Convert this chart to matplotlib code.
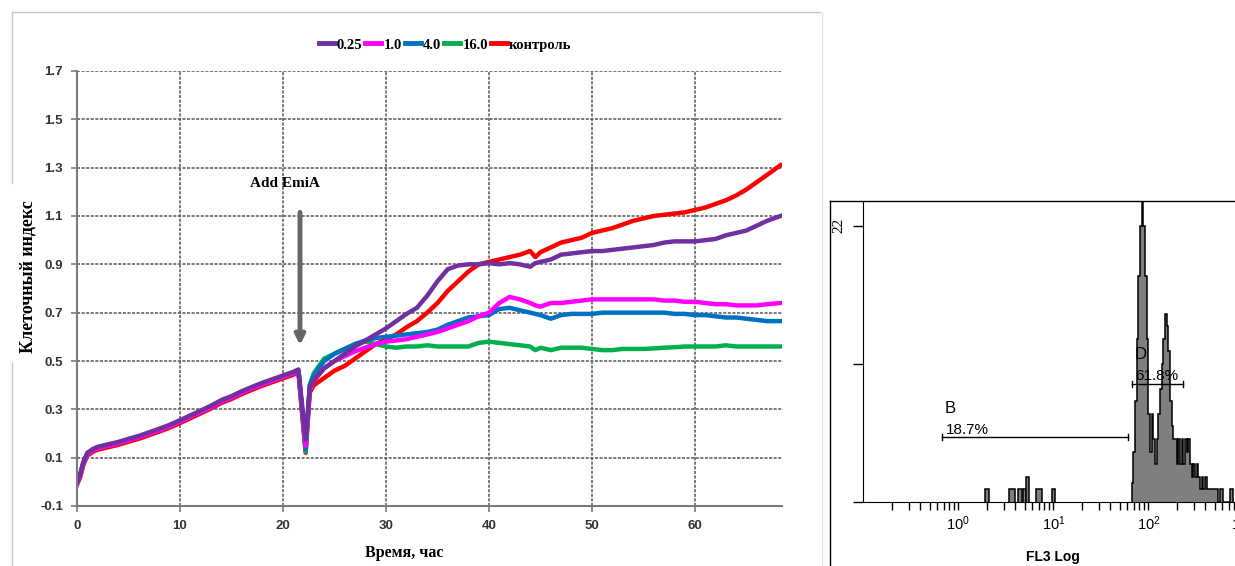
import numpy as np
import matplotlib
matplotlib.use('Agg')
import matplotlib.pyplot as plt
from matplotlib.lines import Line2D

plt.rcParams['font.family'] = ['Liberation Sans', 'DejaVu Sans']

# ---- left chart: cell index vs time ----
t_pre = [0, 0.3, 0.6, 1.0, 1.5, 2, 3, 4, 5, 6, 7, 8, 9, 10, 11, 12, 13, 14, 15,
         16, 17, 18, 19, 20, 21, 21.5]
ci_pre = [0.0, 0.03, 0.08, 0.12, 0.135, 0.145, 0.155, 0.165, 0.178, 0.19, 0.205,
          0.22, 0.236, 0.255, 0.275, 0.295, 0.315, 0.338, 0.355, 0.375, 0.393,
          0.41, 0.425, 0.44, 0.455, 0.465]

t_post = [22.2, 22.6, 23, 24, 25, 26, 27, 28, 29, 30, 31, 32, 33, 34, 35, 36, 37,
          38, 39, 40, 41, 42, 43, 44, 44.5, 45, 46, 47, 48, 49, 50, 51, 52, 53,
          54, 55, 56, 57, 58, 59, 60, 61, 62, 63, 64, 65, 66, 67, 68.3]

ci_025 = [0.175, 0.39, 0.42, 0.47, 0.5, 0.53, 0.56, 0.585, 0.61, 0.635, 0.665,
          0.695, 0.72, 0.77, 0.83, 0.88, 0.895, 0.9, 0.9, 0.905, 0.9, 0.905, 0.9,
          0.89, 0.905, 0.91, 0.92, 0.94, 0.945, 0.95, 0.955, 0.955, 0.96, 0.965,
          0.97, 0.975, 0.98, 0.99, 0.995, 0.995, 0.995, 1.0, 1.005, 1.02, 1.03,
          1.04, 1.06, 1.08, 1.1]
ci_10 = [0.15, 0.38, 0.42, 0.47, 0.5, 0.52, 0.54, 0.555, 0.57, 0.58, 0.585,
         0.59, 0.6, 0.61, 0.62, 0.635, 0.65, 0.665, 0.685, 0.7, 0.74, 0.765,
         0.755, 0.74, 0.73, 0.725, 0.74, 0.74, 0.745, 0.75, 0.755, 0.755, 0.755,
         0.755, 0.755, 0.755, 0.755, 0.75, 0.75, 0.745, 0.745, 0.74, 0.735,
         0.735, 0.73, 0.73, 0.73, 0.735, 0.74]
ci_40 = [0.135, 0.4, 0.44, 0.5, 0.53, 0.55, 0.57, 0.585, 0.595, 0.6, 0.605,
         0.61, 0.615, 0.62, 0.63, 0.65, 0.665, 0.68, 0.685, 0.69, 0.715, 0.72,
         0.71, 0.7, 0.695, 0.69, 0.675, 0.69, 0.695, 0.695, 0.695, 0.7, 0.7,
         0.7, 0.7, 0.7, 0.7, 0.7, 0.695, 0.695, 0.69, 0.69, 0.685, 0.68, 0.68,
         0.675, 0.67, 0.665, 0.665]
ci_160 = [0.125, 0.4, 0.45, 0.51, 0.53, 0.55, 0.57, 0.58, 0.57, 0.56, 0.555,
          0.56, 0.56, 0.565, 0.56, 0.56, 0.56, 0.56, 0.575, 0.58, 0.575, 0.57,
          0.565, 0.56, 0.545, 0.555, 0.545, 0.555, 0.555, 0.555, 0.55, 0.545,
          0.545, 0.55, 0.55, 0.55, 0.552, 0.555, 0.557, 0.56, 0.56, 0.56, 0.56,
          0.565, 0.56, 0.56, 0.56, 0.56, 0.56]
ci_ctrl = [0.12, 0.37, 0.4, 0.43, 0.46, 0.48, 0.51, 0.54, 0.57, 0.59, 0.61,
           0.64, 0.665, 0.7, 0.74, 0.79, 0.83, 0.87, 0.9, 0.91, 0.92, 0.93,
           0.94, 0.955, 0.93, 0.95, 0.97, 0.99, 1.0, 1.01, 1.03, 1.04, 1.05,
           1.065, 1.08, 1.09, 1.1, 1.105, 1.11, 1.115, 1.125, 1.135, 1.15,
           1.165, 1.185, 1.21, 1.24, 1.27, 1.31]
pre_offset = {'0.25': 0.0, '1.0': -0.006, '4.0': -0.004, '16.0': -0.005, 'контроль': -0.012}

series_names = ['0.25', '1.0', '4.0', '16.0', 'контроль']
series_vals = [ci_025, ci_10, ci_40, ci_160, ci_ctrl]
series_colors = ['#7030A0', '#FF00FF', '#0070C0', '#00B050', '#FF0000']
draw_order = [4, 3, 2, 1, 0]

yticks = [-0.1, 0.1, 0.3, 0.5, 0.7, 0.9, 1.1, 1.3, 1.5, 1.7]
ytick_labels = ['-0.1', '0.1', '0.3', '0.5', '0.7', '0.9', '1.1', '1.3', '1.5', '1.7']
xticks = [0, 10, 20, 30, 40, 50, 60]

# ---- right chart: FL3 histogram ----
main_start = 1.825   # log10 of first bin edge
main_step = 0.01754
main_counts = [1.5, 4, 8, 13, 18, 22, 24, 22, 18, 13, 7, 4, 7, 5, 3, 5, 7, 9, 11,
               13, 15, 14, 12, 8, 6, 5, 5, 3, 5, 3, 5, 3, 5, 4, 5, 3, 2, 3, 2, 3,
               2, 1, 2, 1, 2, 1, 1, 1, 1, 1, 1, 1, 0, 1, 1, 0, 0, 0, 0, 1, 1]
small_events = [(0.281, 0.323, 1), (0.537, 0.596, 1), (0.625, 0.667, 1),
                (0.684, 0.712, 1), (0.712, 0.747, 2), (0.818, 0.877, 1),
                (0.989, 1.018, 1)]
gate_B = (0.668, 61.6, 5.13)
gate_D = (66.8, 233.0, 9.4)

serif = ['Liberation Serif', 'DejaVu Serif']
fig = plt.figure(figsize=(12.35, 5.66), dpi=100)

ax = fig.add_axes([77/1235, 60/566, 705/1235, 435/566])
for i in draw_order:
    name = series_names[i]
    t = t_pre + t_post
    y = [v + pre_offset[name] for v in ci_pre] + series_vals[i]
    ax.plot(t, y, color=series_colors[i], lw=3.2, solid_joinstyle='round')

ax.set_xlim(0, 68.45)
ax.set_ylim(-0.1, 1.7)
ax.set_yticks(yticks)
ax.set_yticklabels(ytick_labels)
ax.set_xticks(xticks)
for s in ['top', 'right']:
    ax.spines[s].set_visible(False)
for s in ['left', 'bottom']:
    ax.spines[s].set_color('#7a7a7a')
    ax.spines[s].set_linewidth(1.5)
ax.grid(True, color='#555555', linestyle=(0, (2, 1)), lw=1.1)
ax.set_axisbelow(True)
ax.tick_params(length=4, width=1.2, color='#7a7a7a', labelsize=9.5, pad=6,
               labelcolor='#333333')
for lab in ax.get_xticklabels() + ax.get_yticklabels():
    lab.set_fontweight('bold')

ax.annotate('', xy=(21.65, 0.565), xytext=(21.65, 1.115),
            arrowprops=dict(arrowstyle='-|>', color='#666666', lw=3.5,
                            mutation_scale=14, shrinkA=0, shrinkB=0))
ax.text(16.8, 1.236, 'Add EmiA', family=serif, fontweight='bold', fontsize=11,
        va='center', ha='left')

handles = [Line2D([], [], color=c, lw=3.5) for c in series_colors]
fig.legend(handles, series_names, loc='center', bbox_to_anchor=(445/1235, 1 - 45/566),
           ncol=5, frameon=False, handlelength=1.1, handletextpad=0.15,
           columnspacing=0.2, prop=dict(family=serif, weight='bold', size=10.5))

fig.text(28/1235, 1 - 277/566, 'Клеточный индекс', rotation=90, ha='center',
         va='center', family=serif, fontweight='bold', fontsize=13)
fig.text(404/1235, 1 - 553/566, 'Время, час', ha='center', va='center',
         family=serif, fontweight='bold', fontsize=11.5)

# word frame around the left picture
frame_c = '#c8c8c8'
fig.add_artist(Line2D([12/1235, 820/1235], [1 - 12/566, 1 - 12/566], color=frame_c, lw=1))
fig.add_artist(Line2D([12/1235, 12/1235], [1 - 12/566, 1 - 183/566], color=frame_c, lw=1))
fig.add_artist(Line2D([12/1235, 12/1235], [1 - 363/566, 0], color=frame_c, lw=1))
fig.add_artist(Line2D([822/1235, 822/1235], [1 - 12/566, 0], color='#e2e2e2', lw=1))

# ---- histogram ----
hx = fig.add_axes([863.3/1235, 64.3/566, 475/1235, 301/566])
edges = 10 ** (main_start + main_step * np.arange(len(main_counts) + 1))
hx.stairs(main_counts, edges, fill=True, color='#7f7f7f')
hx.stairs(main_counts, edges, color='black', lw=1.1)
for lo, hi, c in small_events:
    e = [10 ** lo, 10 ** hi]
    hx.stairs([c], e, fill=True, color='#7f7f7f')
    hx.stairs([c], e, color='black', lw=1.1)
hx.set_xscale('log')
hx.set_xlim(0.1, 1e4)
hx.set_ylim(0, 24)
hx.set_yticks([0, 11, 22])
hx.set_yticklabels(['', '', '22'], rotation=90, va='center', family=serif, fontsize=11)
hx.set_xticks([1, 10, 100, 1000])
hx.set_xticklabels(['$\\mathregular{10^0}$', '$\\mathregular{10^1}$',
                    '$\\mathregular{10^2}$', '$\\mathregular{10^3}$'])
hx.tick_params(axis='x', which='both', length=6, width=1, labelsize=10.5, pad=3)
hx.tick_params(axis='y', length=7, width=1, pad=6)
for s in ['top', 'right']:
    hx.spines[s].set_visible(False)
fig.text(1053/1235, 1 - 557/566, 'FL3 Log', ha='center', va='center',
         fontweight='bold', fontsize=10)

for lo, hi, y, lab, name in [(gate_B[0], gate_B[1], gate_B[2], '18.7%', 'B'),
                             (gate_D[0], gate_D[1], gate_D[2], '61.8%', 'D')]:
    hx.plot([lo, hi], [y, y], color='black', lw=1)
    hx.plot([lo, lo], [y - 0.25, y + 0.25], color='black', lw=1)
    hx.plot([hi, hi], [y - 0.25, y + 0.25], color='black', lw=1)
    hx.text(lo * 1.1, y + 0.05, lab, fontsize=11, va='bottom', ha='left')
    hx.text(lo * 1.08, y + 1.7, name, fontsize=12, va='bottom', ha='left')

fig.add_artist(Line2D([830/1235, 830/1235], [0, 1 - 200.7/566], color='black', lw=1))
fig.add_artist(Line2D([830/1235, 1], [1 - 200.7/566, 1 - 200.7/566], color='black', lw=1))

fig.savefig('out.png', dpi=100)
